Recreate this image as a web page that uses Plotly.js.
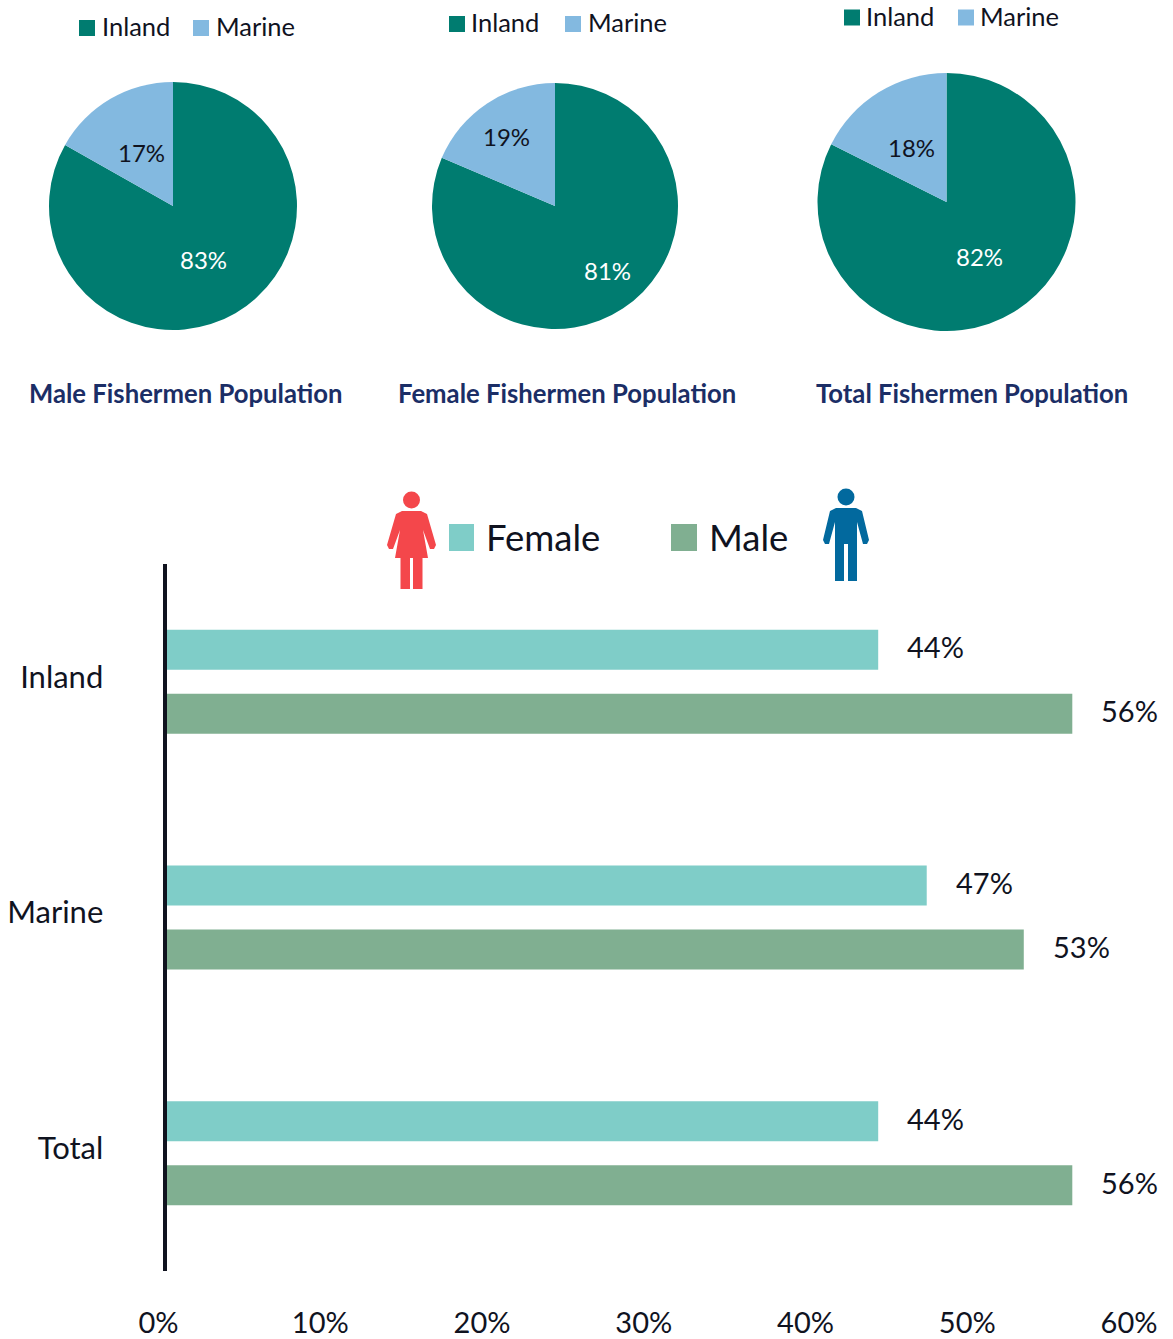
<!DOCTYPE html>
<html>
<head>
<meta charset="utf-8">
<script src="https://cdn.plot.ly/plotly-3.0.1.min.js"></script>
<style>html,body{margin:0;padding:0;background:#fff}#chart{width:1173px;height:1339px}</style>
</head>
<body>
<div id="chart"></div>
<script>
const pieLabels = ["Inland", "Marine"];
const maleShare = [83.2, 16.8];
const femaleShare = [81.4, 18.6];
const totalShare = [82.4, 17.6];
const pieTitles = ["Male Fishermen Population", "Female Fishermen Population", "Total Fishermen Population"];
const barCategories = ["Inland", "Marine", "Total"];
const femaleValues = [44, 47, 44];
const maleValues = [56, 53, 56];
const xTickValues = [0, 10, 20, 30, 40, 50, 60];
const xTickLabels = ["0%", "10%", "20%", "30%", "40%", "50%", "60%"];

const W = 1173, H = 1339;
const FONT = "Lato, 'Open Sans', sans-serif";
const INK = "#10131f";
const INLAND = "#007C70", MARINE = "#83B9E0", FEMALE = "#7FCDC8", MALE = "#80AF91";
const px = x => x / W, py = y => 1 - y / H;

function pie(vals, cx, cy, r) {
  return {
    type: "pie", labels: pieLabels, values: vals, sort: false, direction: "clockwise", rotation: 0,
    domain: {x: [px(cx - r), px(cx + r)], y: [py(cy + r), py(cy - r)]},
    marker: {colors: [INLAND, MARINE], line: {width: 0}},
    textinfo: "none",
    hoverinfo: "label+percent", showlegend: false
  };
}
function bar(name, vals, color) {
  return {type: "bar", orientation: "h", name, y: barCategories, x: vals, marker: {color, line: {width: 0}},
    xaxis: "x", yaxis: "y", showlegend: false};
}
const data = [
  pie(maleShare, 173, 206, 124),
  pie(femaleShare, 555, 206, 123),
  pie(totalShare, 946.5, 202, 129),
  bar("Female", femaleValues, FEMALE),
  bar("Male", maleValues, MALE)
];

const annotations = [], shapes = [];
function text(t, x, y, size, opts) {
  annotations.push(Object.assign({text: t, xref: "paper", yref: "paper", x: px(x), y: py(y), showarrow: false,
    xanchor: "left", yanchor: "middle", font: {family: FONT, size, color: INK}}, opts || {}));
}
function box(x0, y0, x1, y1, color) {
  shapes.push({type: "rect", xref: "paper", yref: "paper", x0: px(x0), x1: px(x1), y0: py(y0), y1: py(y1),
    fillcolor: color, line: {width: 0}});
}
function poly(pts, color) {
  const d = pts.map((p, i) => (i ? "L" : "M") + px(p[0]) + "," + py(p[1])).join(" ") + " Z";
  shapes.push({type: "path", xref: "paper", yref: "paper", path: d, fillcolor: color, line: {width: 0}});
}
function dot(cx, cy, r, color) {
  shapes.push({type: "circle", xref: "paper", yref: "paper", x0: px(cx - r), x1: px(cx + r), y0: py(cy + r), y1: py(cy - r),
    fillcolor: color, line: {width: 0}});
}

// pie slice labels
function sliceLabel(share, x, y, color) {
  text(Math.round(share) + "%", x, y, 24, {xanchor: "center", font: {family: FONT, size: 24, color}});
}
sliceLabel(maleShare[0], 203, 259.5, "#ffffff");
sliceLabel(maleShare[1], 141, 152.5, INK);
sliceLabel(femaleShare[0], 607, 270.5, "#ffffff");
sliceLabel(femaleShare[1], 506, 136.5, INK);
sliceLabel(totalShare[0], 979, 256.5, "#ffffff");
sliceLabel(totalShare[1], 912, 147, INK);

// pie legends
[[79, 100, 193, 213.5, 28], [449, 469, 565, 585.5, 24], [844, 864, 958, 977.5, 17.5]].forEach(l => {
  box(l[0], l[4] - 8, l[0] + 16, l[4] + 8, INLAND);
  text(pieLabels[0], l[1], l[4] - 2, 25.5);
  box(l[2], l[4] - 8, l[2] + 16, l[4] + 8, MARINE);
  text(pieLabels[1], l[3], l[4] - 2, 25.5);
});
// pie titles
[186, 567, 972].forEach((cx, i) => {
  text("<b>" + pieTitles[i] + "</b>", cx, 392.5, 25.7, {xanchor: "center", font: {family: FONT, size: 25.7, color: "#1B2E66"}});
});
// bar legend
box(449, 524, 474, 551, FEMALE);
text("Female", 483.5, 537, 36.5);
box(671, 524, 697, 551, MALE);
text("Male", 707, 537, 36.5);

// female icon
const RED = "#F4474B", BLUE = "#02699E";
dot(411.5, 500, 8.5, RED);
poly([[402, 511], [421, 511], [427, 514], [436, 545], [434, 549], [430, 549], [423, 530], [428, 558], [422.5, 558], [422.5, 589],
      [413, 589], [413, 558], [410, 558], [410, 589], [400.5, 589], [400.5, 558], [395, 558], [400, 530], [393, 549], [389, 549], [387, 545], [396, 514]], RED);
// male icon
dot(846, 497, 8.5, BLUE);
poly([[836, 508], [856, 508], [862, 511], [869, 540], [867, 544], [863, 544], [857, 522], [857, 581], [848, 581], [848, 544], [844, 544],
      [844, 581], [835, 581], [835, 522], [829, 544], [825, 544], [823, 540], [830, 511]], BLUE);

// bar value labels
function barLabel(v, cat, shift) {
  annotations.push({text: v + "%", xref: "x", yref: "y", x: v, y: cat, showarrow: false, xanchor: "left", yanchor: "middle",
    xshift: 27, yshift: shift, font: {family: FONT, size: 29, color: INK}});
}
barCategories.forEach((c, i) => {
  barLabel(femaleValues[i], c, 35);
  barLabel(maleValues[i], c, -29);
});

const layout = {
  width: W, height: H, margin: {l: 0, r: 0, t: 0, b: 0}, paper_bgcolor: "#fff", plot_bgcolor: "#fff",
  font: {family: FONT, color: INK},
  barmode: "group", bargap: 0.4565, bargroupgap: 0.375,
  xaxis: {domain: [px(166.5), px(1137)], range: [0, 60], anchor: "y", tickmode: "array", tickvals: xTickValues, ticktext: xTickLabels,
    showgrid: false, zeroline: false, showline: false, ticks: "", ticklabelshift: -8, ticklabelstandoff: 32,
    tickfont: {family: FONT, size: 29, color: INK}},
  yaxis: {domain: [py(1271), py(564)], autorange: "reversed", anchor: "x", type: "category", showgrid: false, zeroline: false,
    showline: true, linecolor: "#10131f", linewidth: 4, ticks: "", ticklabelshift: 5, ticklabelstandoff: 53,
    tickfont: {family: FONT, size: 31, color: INK}},
  annotations, shapes
};
Plotly.newPlot("chart", data, layout, {displayModeBar: false, responsive: false});
</script>
</body>
</html>
